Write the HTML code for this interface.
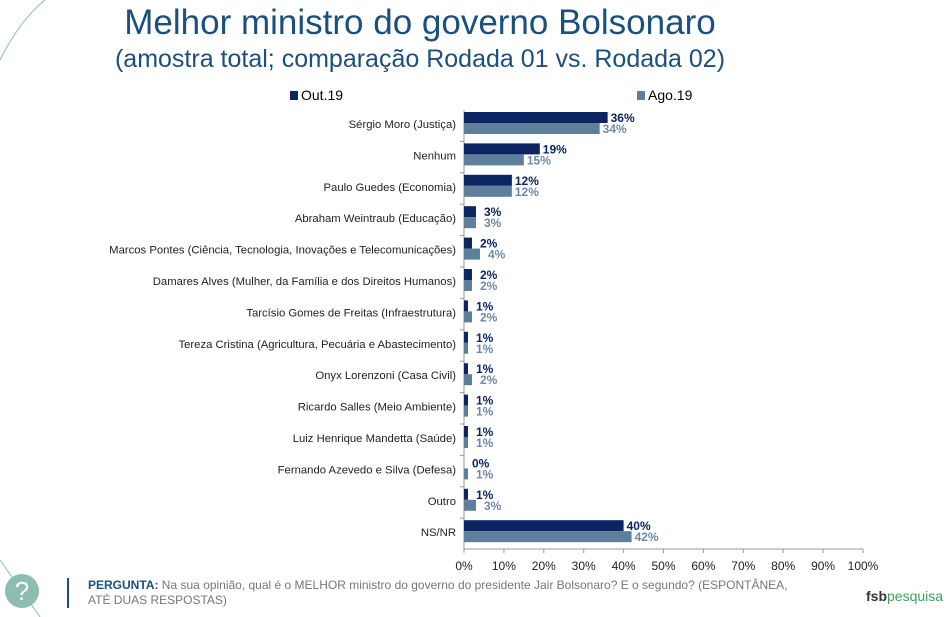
<!DOCTYPE html>
<html><head><meta charset="utf-8"><style>
body{margin:0;background:#fff;width:947px;height:617px;overflow:hidden;font-family:"Liberation Sans",sans-serif;position:relative}
.t{position:absolute;left:0;width:840px;text-align:center;color:#1b4f7f}
</style></head><body>
<svg width="947" height="617" style="position:absolute;left:0;top:0">
<path d="M0,60 Q20,20 45,0" stroke="#8fbfb0" fill="none"/>
<path d="M0,560 L40,617" stroke="#8fbfb0" fill="none"/>
<circle cx="22" cy="591" r="17" fill="#8dbdb2"/>
<text x="22" y="600" font-size="26" fill="#fff" text-anchor="middle" font-family="Liberation Sans">?</text>
<rect x="67" y="578" width="2" height="30" fill="#1b4f7f"/>
<g id="plot"></g>
</svg>
<div class="t" style="top:3px;font-size:35px">Melhor ministro do governo Bolsonaro</div>
<div class="t" style="top:45px;font-size:25px">(amostra total; comparação Rodada 01 vs. Rodada 02)</div>
<div style="position:absolute;left:290px;top:87px;font-size:14px"><span style="display:inline-block;width:8px;height:9px;background:#0c2461;margin-right:3px"></span>Out.19</div>
<div style="position:absolute;left:637px;top:87px;font-size:14px"><span style="display:inline-block;width:8px;height:9px;background:#5d7f9c;margin-right:3px"></span>Ago.19</div>
<div style="position:absolute;left:88px;top:578px;width:715px;font-size:12px;color:#777;line-height:15px"><b style="color:#1b4f7f">PERGUNTA:</b> Na sua opinião, qual é o MELHOR ministro do governo do presidente Jair Bolsonaro? E o segundo? (ESPONTÂNEA, ATÉ DUAS RESPOSTAS)</div>
<div style="position:absolute;left:866px;top:588px;font-size:14px;color:#333;font-weight:bold">fsb<span style="color:#3aa35b;font-weight:normal">pesquisa</span></div>
<script>
const categories=["Sérgio Moro (Justiça)","Nenhum","Paulo Guedes (Economia)","Abraham Weintraub (Educação)","Marcos Pontes (Ciência, Tecnologia, Inovações e Telecomunicações)","Damares Alves (Mulher, da Família e dos Direitos Humanos)","Tarcísio Gomes de Freitas (Infraestrutura)","Tereza Cristina (Agricultura, Pecuária e Abastecimento)","Onyx Lorenzoni (Casa Civil)","Ricardo Salles (Meio Ambiente)","Luiz Henrique Mandetta (Saúde)","Fernando Azevedo e Silva (Defesa)","Outro","NS/NR"];
const out19=[36,19,12,3,2,2,1,1,1,1,1,0,1,40];
const ago19=[34,15,12,3,4,2,2,1,2,1,1,1,3,42];
const ticks=[0,10,20,30,40,50,60,70,80,90,100];
const NS="http://www.w3.org/2000/svg";
const g=document.getElementById('plot');
const x0=464,x1=863,top0=110,bandH=31.4;
const xs=v=>x0+(x1-x0)*v/100;
function mk(tag,attrs){const e=document.createElementNS(NS,tag);for(const k in attrs)e.setAttribute(k,attrs[k]);g.appendChild(e);return e;}
const ax=mk('line',{x1:x0,x2:x0,y1:top0,y2:top0+bandH*categories.length,stroke:'#999'});


const bx=mk('line',{x1:x0,x2:x1,y1:549,y2:549,stroke:'#999'});


ticks.forEach(t=>{
 const l=mk('line',{x1:xs(t),x2:xs(t),y1:549,y2:553,stroke:'#999'});
 
 
 const tx=mk('text',{x:xs(t),y:570,'font-size':12,'text-anchor':'middle',fill:'#222'});
 tx.textContent=t+'%';
 
 
});
categories.forEach((c,i)=>{
 const yt=top0+i*bandH;
 if(i>0){const tk=mk('line',{x1:x0-4,x2:x0,y1:yt,y2:yt,stroke:'#999'});}
 const lb=mk('text',{x:456,y:yt+18,'font-size':11.3,'text-anchor':'end',fill:'#222'});
 lb.textContent=c;
 
 
 const b1=mk('rect',{x:x0,y:yt+2,width:xs(out19[i])-x0,height:11,fill:'#0c2461'});
 
 
 const b2=mk('rect',{x:x0,y:yt+13,width:xs(ago19[i])-x0,height:11,fill:'#5d7f9c'});
 
 
 const v1=mk('text',{x:xs(out19[i])+ (out19[i]>5?3:8),y:yt+12,'font-size':12,'font-weight':'bold',fill:'#0c2461'});
 v1.textContent=out19[i]+'%';
 
 
 const v2=mk('text',{x:xs(ago19[i])+ (ago19[i]>5?3:8),y:yt+23,'font-size':12,'font-weight':'bold',fill:'#6d8aa5'});
 v2.textContent=ago19[i]+'%';
 
 
});
</script>
</body></html>
